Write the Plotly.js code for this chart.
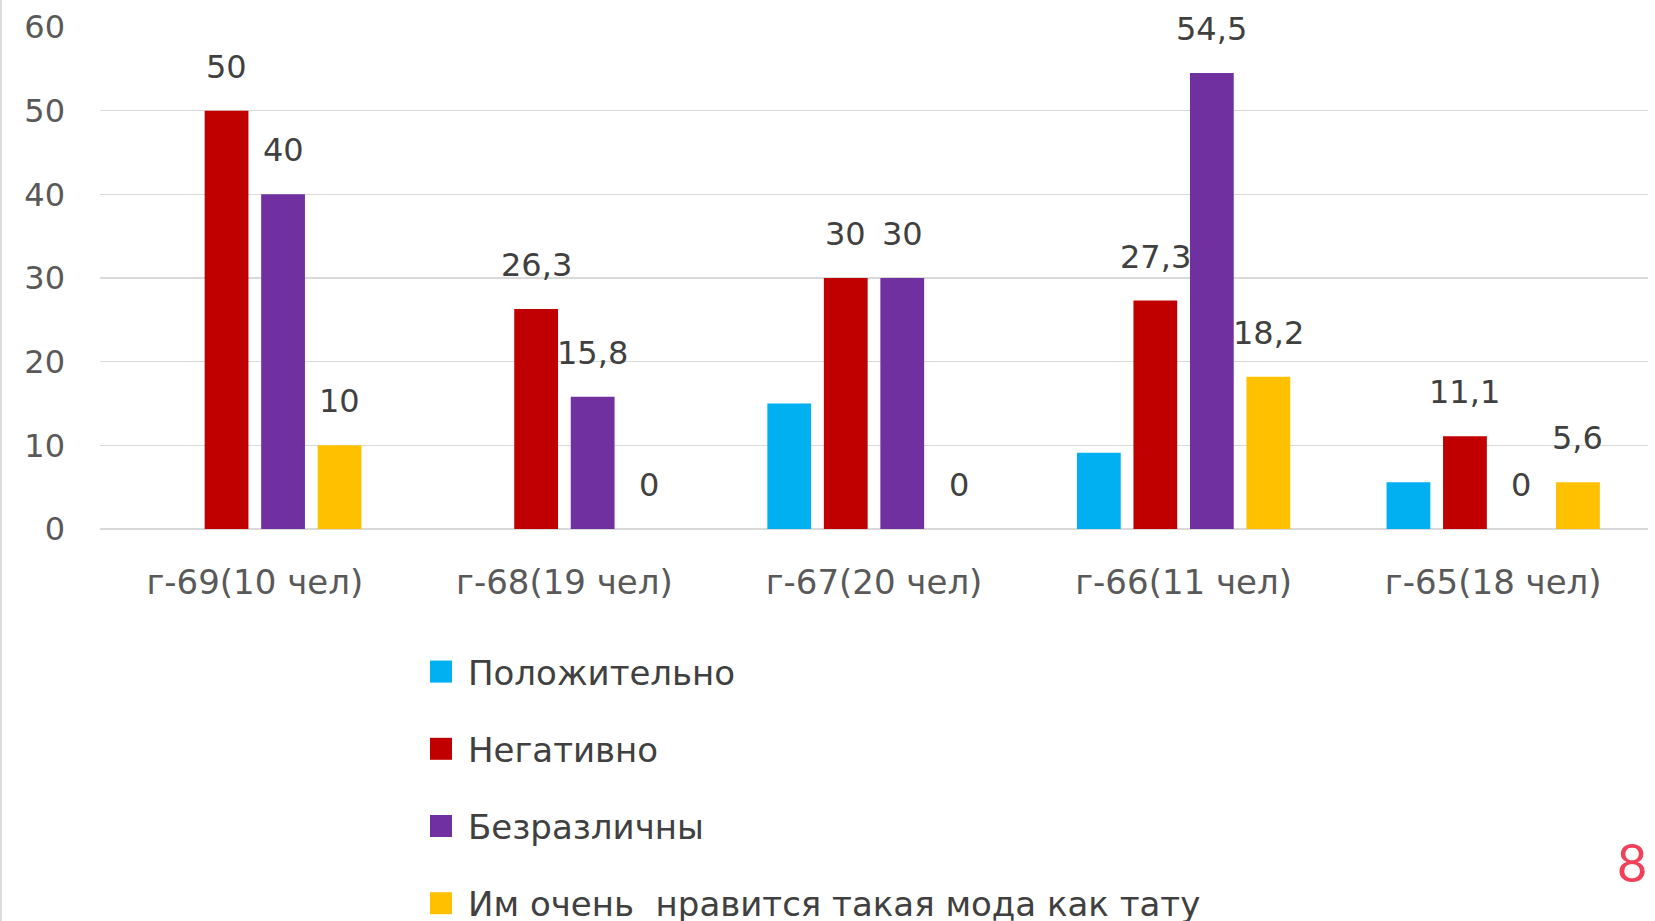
<!DOCTYPE html>
<html>
<head>
<meta charset="utf-8">
<script src="https://cdn.plot.ly/plotly-3.0.1.min.js"></script>
<style>
  html, body { margin: 0; padding: 0; background: #ffffff; }
  #chart { width: 1655px; height: 921px; }
</style>
</head>
<body>
<div id="chart"></div>
<script>
// ---- data ----
const categories = ["г-69(10 чел)", "г-68(19 чел)", "г-67(20 чел)", "г-66(11 чел)", "г-65(18 чел)"];
const seriesNames = ["Положительно", "Негативно", "Безразличны", "Им очень  нравится такая мода как тату"];
const positive = [0, 0, 15, 9.1, 5.6];
const negative = [50, 26.3, 30, 27.3, 11.1];
const indifferent = [40, 15.8, 30, 54.5, 0];
const likeIt = [10, 0, 0, 18.2, 5.6];
const yTicks = [0, 10, 20, 30, 40, 50, 60];
const labelledSeries = [false, true, true, true];

// ---- styling ----
const colors = ["#00B0F0", "#C00000", "#7030A0", "#FFC000"];
const W = 1655, H = 921;
const margin = {l: 100, r: 7, t: 27, b: 392, autoexpand: false};
const bargap = 0.27, bargroupgap = 0.225;
const FONT = "DejaVu Sans, Noto Sans, sans-serif";
const LEGEND_SYMBOL = 22;      // legend square size, px
const LEGEND_SYMBOL_GAP = 27;  // symbol centre -> text start, px

const plotW = W - margin.l - margin.r;
const plotH = H - margin.t - margin.b;
const px2paperX = px => (px - margin.l) / plotW;
const px2paperY = py => (H - margin.b - py) / plotH;

const allSeries = [positive, negative, indifferent, likeIt];

const traces = allSeries.map((vals, k) => ({
  type: "bar",
  name: seriesNames[k],
  x: categories,
  y: vals,
  marker: {color: colors[k]},
  legendgroup: "g" + k,
  hoverinfo: "x+y+name"
}));

// data labels as annotations above bars
const catW = plotW / categories.length;
const slot = catW * (1 - bargap) / allSeries.length;
const annotations = [];
allSeries.forEach((vals, k) => {
  if (!labelledSeries[k]) return;
  vals.forEach((v, i) => {
    annotations.push({
      x: categories[i], y: v, xref: "x", yref: "y",
      text: String(v).replace(".", ","),
      showarrow: false,
      xanchor: "center", yanchor: "middle",
      xshift: (k - (allSeries.length - 1) / 2) * slot,
      yshift: 44,
      font: {family: FONT, size: 32, color: "#404040"}
    });
  });
});
// slide number
annotations.push({
  x: px2paperX(1632), y: px2paperY(862), xref: "paper", yref: "paper",
  text: "8", showarrow: false, xanchor: "center", yanchor: "middle",
  font: {family: "Lato, Open Sans, sans-serif", size: 52, color: "#F0405A", weight: 400}
});

const layout = {
  width: W, height: H,
  margin: margin,
  paper_bgcolor: "#ffffff",
  plot_bgcolor: "#ffffff",
  barmode: "group",
  bargap: bargap,
  bargroupgap: bargroupgap,
  showlegend: true,
  legend: {
    orientation: "v",
    xref: "paper", yref: "paper",
    x: px2paperX(400), xanchor: "left",
    y: px2paperY(643), yanchor: "top",
    itemwidth: 58,
    font: {family: FONT, size: 34, color: "#404040"},
    tracegroupgap: 30,
    bgcolor: "rgba(0,0,0,0)"
  },
  xaxis: {
    type: "category",
    tickfont: {family: FONT, size: 34, color: "#595959"},
    tickangle: 0,
    showgrid: false,
    showline: false,
    ticks: "",
    ticklabelstandoff: 30,
    zeroline: false
  },
  yaxis: {
    range: [0, 60],
    tickvals: yTicks,
    ticktext: yTicks.map(String),
    tickfont: {family: FONT, size: 32, color: "#595959"},
    showgrid: true,
    gridcolor: "#D9D9D9",
    gridwidth: 1.5,
    zeroline: true,
    zerolinecolor: "#D9D9D9",
    zerolinewidth: 1.5,
    showline: false,
    ticks: "",
    ticklabelstandoff: 34
  },
  annotations: annotations,
  shapes: [{
    type: "line", xref: "paper", yref: "paper",
    x0: px2paperX(1), x1: px2paperX(1),
    y0: px2paperY(H), y1: px2paperY(0),
    line: {color: "#D0D0D0", width: 1.5}
  }]
};

function enlargeLegendSymbols(gd) {
  gd.querySelectorAll(".legend g.traces").forEach(item => {
    const p = item.querySelector(".legendpoints path");
    const t = item.querySelector("text.legendtext");
    if (!p || !t) return;
    if (!p.dataset.origTransform) p.dataset.origTransform = p.getAttribute("transform") || "";
    p.setAttribute("transform", p.dataset.origTransform);
    const pr = p.getBoundingClientRect();
    const tr = t.getBoundingClientRect();
    const bb = p.getBBox();
    if (!bb.width || !bb.height) return;
    const curCx = pr.left + pr.width / 2;
    const dx = (tr.left - LEGEND_SYMBOL_GAP) - curCx;
    const cx = bb.x + bb.width / 2, cy = bb.y + bb.height / 2;
    const sx = LEGEND_SYMBOL / bb.width, sy = LEGEND_SYMBOL / bb.height;
    p.setAttribute("transform",
      `${p.dataset.origTransform} translate(${dx},0) translate(${cx},${cy}) scale(${sx},${sy}) translate(${-cx},${-cy})`);
  });
}

Plotly.newPlot("chart", traces, layout, {displayModeBar: false, staticPlot: true}).then(gd => {
  enlargeLegendSymbols(gd);
});
</script>
</body>
</html>
